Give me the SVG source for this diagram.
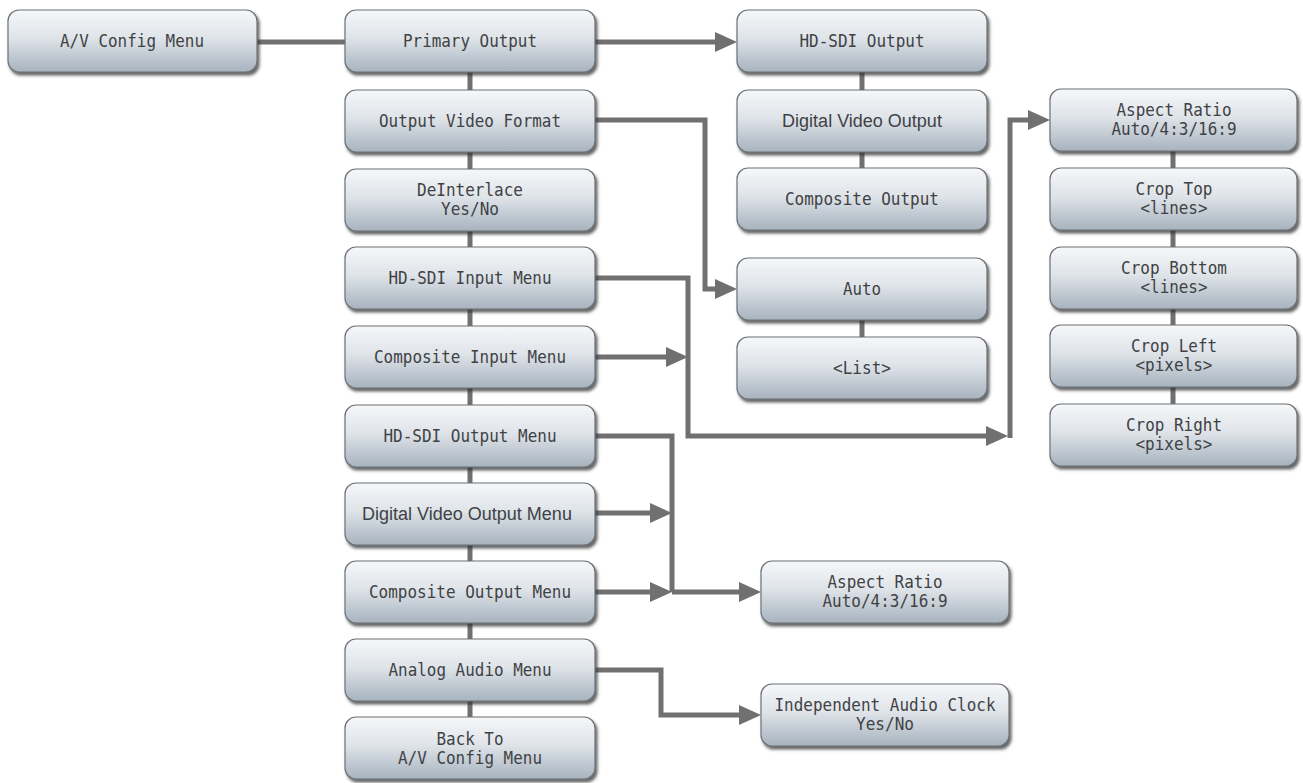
<svg xmlns="http://www.w3.org/2000/svg" width="1303" height="783" viewBox="0 0 1303 783">
<style>
.box{fill:url(#g);stroke:#6d7277;stroke-width:1.2;filter:url(#sh)}
.t{font-family:"DejaVu Sans Mono","Liberation Mono",monospace;font-size:17px;fill:#3f4245;text-anchor:middle;dominant-baseline:central}
.p{font-family:"Liberation Sans","DejaVu Sans",sans-serif;font-size:18px;fill:#3f4245;text-anchor:middle;dominant-baseline:central}
.c{fill:none;stroke:#707070;stroke-width:5}
.a{fill:none;stroke:#707070;stroke-width:5;marker-end:url(#ah)}
</style>
<defs>
<linearGradient id="g" x1="0" y1="0" x2="0" y2="1">
<stop offset="0" stop-color="#f6f7f9"/>
<stop offset="0.45" stop-color="#dfe4e9"/>
<stop offset="1" stop-color="#a7b3be"/>
</linearGradient>
<filter id="sh" x="-5%" y="-10%" width="115%" height="135%">
<feDropShadow dx="2" dy="3" stdDeviation="1.6" flood-color="#333" flood-opacity="0.75"/>
</filter>
<marker id="ah" markerUnits="userSpaceOnUse" markerWidth="24" markerHeight="22" refX="14" refY="11" orient="auto">
<path d="M0,1 L22,11 L0,21 z" fill="#707070"/>
</marker>
</defs>
<rect width="1303" height="783" fill="#fff"/>
<g id="connectors">
<path class="c" d="M257 42 H345"/>
<path class="c" d="M470 72 V717"/>
<path class="c" d="M862 72 V168 M862 320 V337"/>
<path class="c" d="M1173 151 V404"/>
<path class="a" d="M595 42 H729"/>
<path class="a" d="M595 120 H705 V289 H729"/>
<path class="a" d="M595 278 H688 V436 H1000"/>
<path class="a" d="M1010 438 V120 H1042"/>
<path class="a" d="M595 357 H680"/>
<path class="c" d="M595 436 H672 V592"/>
<path class="a" d="M595 513 H664"/>
<path class="a" d="M595 592 H664"/>
<path class="a" d="M672 592 H753"/>
<path class="a" d="M595 670 H661 V715 H753"/>
</g>
<g id="n-av"><rect class="box" x="8" y="10" width="249" height="62" rx="11"/><text class="t" x="132" y="41" textLength="144" lengthAdjust="spacingAndGlyphs">A/V Config Menu</text></g>
<g id="n-primary"><rect class="box" x="345" y="10" width="250" height="62" rx="11"/><text class="t" x="470" y="41" textLength="134" lengthAdjust="spacingAndGlyphs">Primary Output</text></g>
<g id="n-ovf"><rect class="box" x="345" y="90" width="250" height="62" rx="11"/><text class="t" x="470" y="121" textLength="182" lengthAdjust="spacingAndGlyphs">Output Video Format</text></g>
<g id="n-deint"><rect class="box" x="345" y="169" width="250" height="62" rx="11"/><text class="t" x="470" y="190" textLength="106" lengthAdjust="spacingAndGlyphs">DeInterlace</text><text class="t" x="470" y="209" textLength="58" lengthAdjust="spacingAndGlyphs">Yes/No</text></g>
<g id="n-hdsdi-in"><rect class="box" x="345" y="247" width="250" height="62" rx="11"/><text class="t" x="470" y="278" textLength="163" lengthAdjust="spacingAndGlyphs">HD-SDI Input Menu</text></g>
<g id="n-comp-in"><rect class="box" x="345" y="326" width="250" height="62" rx="11"/><text class="t" x="470" y="357" textLength="192" lengthAdjust="spacingAndGlyphs">Composite Input Menu</text></g>
<g id="n-hdsdi-out"><rect class="box" x="345" y="405" width="250" height="62" rx="11"/><text class="t" x="470" y="436" textLength="173" lengthAdjust="spacingAndGlyphs">HD-SDI Output Menu</text></g>
<g id="n-dvo-menu"><rect class="box" x="345" y="483" width="250" height="62" rx="11"/><text class="p" x="467" y="514">Digital Video Output Menu</text></g>
<g id="n-comp-out"><rect class="box" x="345" y="561" width="250" height="62" rx="11"/><text class="t" x="470" y="592" textLength="202" lengthAdjust="spacingAndGlyphs">Composite Output Menu</text></g>
<g id="n-audio"><rect class="box" x="345" y="639" width="250" height="62" rx="11"/><text class="t" x="470" y="670" textLength="163" lengthAdjust="spacingAndGlyphs">Analog Audio Menu</text></g>
<g id="n-back"><rect class="box" x="345" y="717" width="250" height="62" rx="11"/><text class="t" x="470" y="739" textLength="67" lengthAdjust="spacingAndGlyphs">Back To</text><text class="t" x="470" y="758" textLength="144" lengthAdjust="spacingAndGlyphs">A/V Config Menu</text></g>
<g id="n-hdsdi-o"><rect class="box" x="737" y="10" width="250" height="62" rx="11"/><text class="t" x="862" y="41" textLength="125" lengthAdjust="spacingAndGlyphs">HD-SDI Output</text></g>
<g id="n-dvo"><rect class="box" x="737" y="90" width="250" height="62" rx="11"/><text class="p" x="862" y="121">Digital Video Output</text></g>
<g id="n-comp-o"><rect class="box" x="737" y="168" width="250" height="62" rx="11"/><text class="t" x="862" y="199" textLength="154" lengthAdjust="spacingAndGlyphs">Composite Output</text></g>
<g id="n-auto"><rect class="box" x="737" y="258" width="250" height="62" rx="11"/><text class="t" x="862" y="289" textLength="38" lengthAdjust="spacingAndGlyphs">Auto</text></g>
<g id="n-list"><rect class="box" x="737" y="337" width="250" height="62" rx="11"/><text class="t" x="862" y="368" textLength="58" lengthAdjust="spacingAndGlyphs">&lt;List&gt;</text></g>
<g id="n-aspect1"><rect class="box" x="1050" y="89" width="247" height="62" rx="11"/><text class="t" x="1174" y="110" textLength="115" lengthAdjust="spacingAndGlyphs">Aspect Ratio</text><text class="t" x="1174" y="129" textLength="125" lengthAdjust="spacingAndGlyphs">Auto/4:3/16:9</text></g>
<g id="n-croptop"><rect class="box" x="1050" y="168" width="247" height="62" rx="11"/><text class="t" x="1174" y="189" textLength="77" lengthAdjust="spacingAndGlyphs">Crop Top</text><text class="t" x="1174" y="208" textLength="67" lengthAdjust="spacingAndGlyphs">&lt;lines&gt;</text></g>
<g id="n-cropbot"><rect class="box" x="1050" y="247" width="247" height="62" rx="11"/><text class="t" x="1174" y="268" textLength="106" lengthAdjust="spacingAndGlyphs">Crop Bottom</text><text class="t" x="1174" y="287" textLength="67" lengthAdjust="spacingAndGlyphs">&lt;lines&gt;</text></g>
<g id="n-cropleft"><rect class="box" x="1050" y="325" width="247" height="62" rx="11"/><text class="t" x="1174" y="346" textLength="86" lengthAdjust="spacingAndGlyphs">Crop Left</text><text class="t" x="1174" y="365" textLength="77" lengthAdjust="spacingAndGlyphs">&lt;pixels&gt;</text></g>
<g id="n-cropright"><rect class="box" x="1050" y="404" width="247" height="62" rx="11"/><text class="t" x="1174" y="425" textLength="96" lengthAdjust="spacingAndGlyphs">Crop Right</text><text class="t" x="1174" y="444" textLength="77" lengthAdjust="spacingAndGlyphs">&lt;pixels&gt;</text></g>
<g id="n-aspect2"><rect class="box" x="761" y="561" width="248" height="62" rx="11"/><text class="t" x="885" y="582" textLength="115" lengthAdjust="spacingAndGlyphs">Aspect Ratio</text><text class="t" x="885" y="601" textLength="125" lengthAdjust="spacingAndGlyphs">Auto/4:3/16:9</text></g>
<g id="n-clock"><rect class="box" x="761" y="684" width="248" height="62" rx="11"/><text class="t" x="885" y="705" textLength="221" lengthAdjust="spacingAndGlyphs">Independent Audio Clock</text><text class="t" x="885" y="724" textLength="58" lengthAdjust="spacingAndGlyphs">Yes/No</text></g>
</svg>
